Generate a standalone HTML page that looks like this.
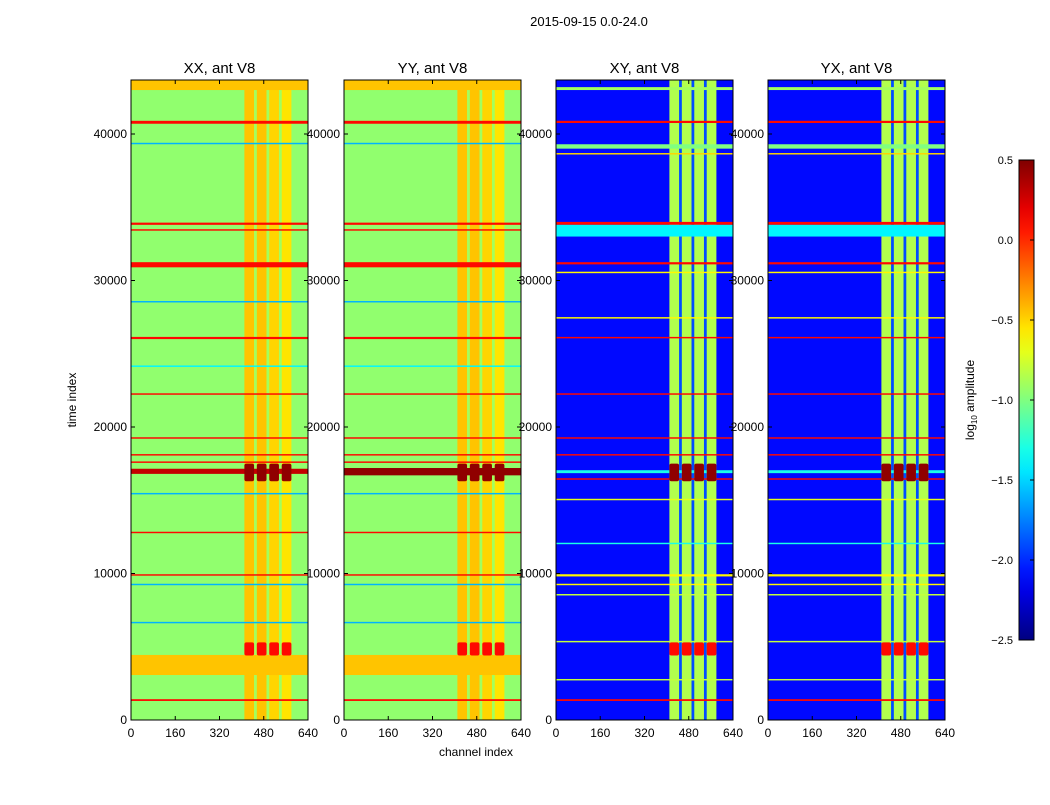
<!DOCTYPE html>
<html><head><meta charset="utf-8">
<style>
body{margin:0;background:#fff;}
svg text{font-family:"Liberation Sans",sans-serif;}
</style></head>
<body>
<svg id="fig" width="1050" height="800" xmlns="http://www.w3.org/2000/svg">
<text x="589" y="26" font-size="13" text-anchor="middle">2015-09-15 0.0-24.0</text>
<text x="476" y="756" font-size="12" text-anchor="middle">channel index</text>
<text transform="translate(76,400) rotate(-90)" font-size="12" text-anchor="middle">time index</text>
<text transform="translate(974,400) rotate(-90)" font-size="12" text-anchor="middle">log<tspan font-size="8" dy="3">10</tspan><tspan dy="-3"> amplitude</tspan></text>
<defs><linearGradient id="jetg" x1="0" y1="1" x2="0" y2="0"></linearGradient></defs>
</svg>
<script>
// ---- data ----
const panelTitles = ["XX, ant V8","YY, ant V8","XY, ant V8","YX, ant V8"];
const xTicks = [0,160,320,480,640];
const yTicks = [0,10000,20000,30000,40000];
const cbTicks = [0.5,0.0,-0.5,-1.0,-1.5,-2.0,-2.5];
const channelEdges = [0,410,445,455,490,500,535,545,580,600,640];
const autoLevels  = [-0.95,-0.45,-0.9,-0.45,-0.9,-0.5,-0.9,-0.55,-0.95,-0.95];
const crossLevels = [-2.1,-0.85,-1.9,-0.85,-1.9,-0.85,-1.9,-0.85,-2.1,-2.1];
// rows: [tStart, tEnd, value]
const autoRows = [[43000,43700,-0.45],[40700,40900,0.1],[39300,39400,-1.6],[33800,33950,0.1],[33400,33500,0.1],[30900,31250,0.1],[28500,28600,-1.6],[26000,26150,0.1],[24100,24200,-1.4],[22200,22300,0.1],[19200,19300,0.1],[18050,18150,0.1],[17550,17650,0.1],[16800,17150,0.3],[15400,15500,-1.6],[12750,12850,0.1],[9850,9950,0.1],[9200,9300,-1.6],[6600,6700,-1.6],[3070,4440,-0.45],[1300,1420,0.1]];
const crossRows = [[43000,43200,-0.9],[40750,40900,0.1],[39000,39300,-1.0],[38600,38700,-0.5],[33800,34000,0.1],[33000,33800,-1.4],[31100,31250,0.1],[30500,30600,-0.6],[27400,27500,-0.6],[26050,26150,0.1],[22200,22300,0.1],[19200,19300,0.1],[18050,18150,0.1],[16850,17050,-1.3],[16400,16500,0.1],[15000,15100,-0.7],[12000,12100,-1.3],[9800,9950,-0.6],[9200,9300,-0.6],[8500,8600,-0.8],[5300,5400,-0.8],[2700,2800,-0.8],[1300,1420,0.1]];
const bandEvents = [[16300,17500,0.45],[4400,5300,0.1]];
// ---- layout ----
const NS="http://www.w3.org/2000/svg";
const svg=document.getElementById('fig');
const panelLeft=[131,344,556,768], pW=177, pTop=80, pBot=720;
const yScale=t=>720-t*(586/40000);
const vmin=-2.5,vmax=0.5;
function jet(v){let n=Math.max(0,Math.min(1,(v-vmin)/(vmax-vmin)));
 const c=x=>Math.round(255*Math.max(0,Math.min(1,1.5-Math.abs(x))));
 return `rgb(${c(4*n-3)},${c(4*n-2)},${c(4*n-1)})`;}
function mk(tag,attrs,parent){const e=document.createElementNS(NS,tag);for(const k in attrs)e.setAttribute(k,attrs[k]);(parent||svg).appendChild(e);return e;}
panelLeft.forEach((L,p)=>{
 const xScale=c=>L+c*pW/640;
 const g=mk('g',{});
 
 
 const levels=p<2?autoLevels:crossLevels, rows=p<2?autoRows:crossRows;
 for(let i=0;i<levels.length;i++){
  const r=mk('rect',{x:xScale(channelEdges[i]),y:pTop,width:xScale(channelEdges[i+1])-xScale(channelEdges[i])+0.3,height:pBot-pTop,fill:jet(levels[i])},g);
  
  
 }
 rows.forEach(rw=>{
  const y1=yScale(rw[1]),y0=yScale(rw[0]);
  const r=mk('rect',{x:L,y:Math.max(pTop,y1),width:pW,height:Math.max(1,y0-Math.max(pTop,y1)),fill:jet(rw[2])},g);
  
  
 });
 if(p===1){const r=mk('rect',{x:L,y:yScale(17200),width:pW,height:yScale(16700)-yScale(17200),fill:jet(0.45)},g);
  
  }
 bandEvents.forEach(ev=>{
  for(let i=1;i<8;i+=2){
   const r=mk('rect',{x:xScale(channelEdges[i]),y:yScale(ev[1]),width:xScale(channelEdges[i+1])-xScale(channelEdges[i]),height:yScale(ev[0])-yScale(ev[1]),fill:jet(ev[2]),rx:2},g);
   
   
  }
 });
 const fr=mk('rect',{x:L,y:pTop,width:pW,height:pBot-pTop,fill:'none',stroke:'#000','stroke-width':1},g);
 
 
 const tt=mk('text',{x:L+pW/2,y:73,'font-size':15,'text-anchor':'middle'},g);tt.textContent=panelTitles[p];
 
 
 xTicks.forEach(v=>{const x=xScale(v);
  mk('line',{x1:x,x2:x,y1:pBot,y2:pBot-4,stroke:'#000'},g);mk('line',{x1:x,x2:x,y1:pTop,y2:pTop+4,stroke:'#000'},g);
  const t=mk('text',{x:x,y:737,'font-size':12,'text-anchor':'middle'},g);t.textContent=v;
  
  });
 yTicks.forEach(v=>{const y=yScale(v);
  mk('line',{x1:L,x2:L+4,y1:y,y2:y,stroke:'#000'},g);mk('line',{x1:L+pW,x2:L+pW-4,y1:y,y2:y,stroke:'#000'},g);
  const t=mk('text',{x:L-4,y:y+4,'font-size':12,'text-anchor':'end'},g);t.textContent=v;
  
  });
});
// colorbar
const grad=document.getElementById('jetg');
for(let i=0;i<=20;i++){mk('stop',{offset:(i/20),'stop-color':jet(vmin+(vmax-vmin)*i/20)},grad);}
const cb=mk('rect',{x:1019,y:160,width:15,height:480,fill:'url(#jetg)',stroke:'#000'});


cbTicks.forEach(v=>{const y=640-(v-vmin)/(vmax-vmin)*480;
 mk('line',{x1:1030,x2:1034,y1:y,y2:y,stroke:'#000'});
 const t=mk('text',{x:1013,y:y+4,'font-size':11,'text-anchor':'end'});
 t.textContent=v.toFixed(1).replace('-','\u2212');
 
 });
</script>
</body></html>
